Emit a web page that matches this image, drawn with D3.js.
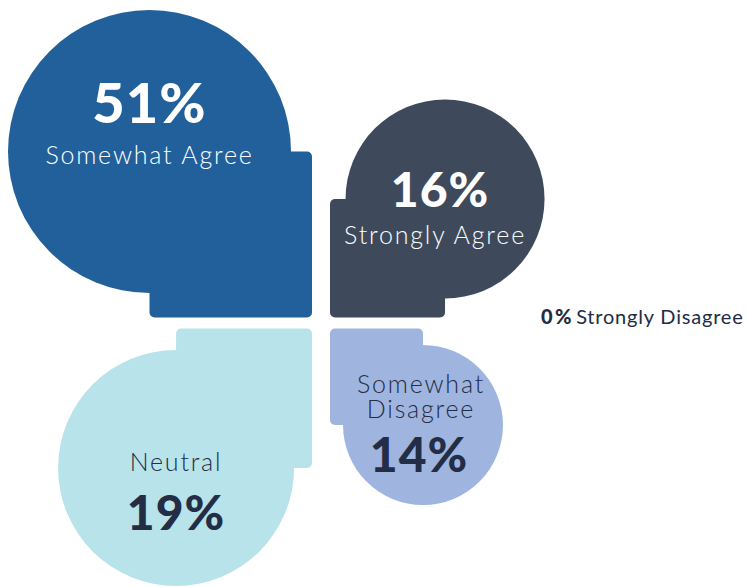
<!DOCTYPE html>
<html>
<head>
<meta charset="utf-8">
<script src="https://cdn.jsdelivr.net/npm/d3@7"></script>
<style>
  html, body { margin: 0; padding: 0; background: #ffffff; }
  svg { display: block; font-family: Lato, "Noto Sans", sans-serif; }
</style>
</head>
<body>
<svg id="chart" width="747" height="587"></svg>
<script>
// Survey responses, share of respondents (%)
const categories = ["Strongly Agree", "Somewhat Agree", "Neutral", "Somewhat Disagree", "Strongly Disagree"];
const values = [16, 51, 19, 14, 0];
const colors = ["#3e4a5c", "#22609c", "#b8e3ea", "#9fb5df", "#222c44"];

const W = 747, H = 587;
const svg = d3.select("#chart");

// Quadrant of each answer around the middle of the flower (sx, sy)
const quadrant = {
  "Somewhat Agree": [-1, -1],
  "Strongly Agree": [1, -1],
  "Neutral": [-1, 1],
  "Somewhat Disagree": [1, 1]
};

const rows = categories.map((c, i) => ({ cat: c, value: values[i], color: colors[i] }));
const petals = rows.filter(d => d.value > 0);
const empty = rows.filter(d => d.value === 0);

// Petal size follows the answer's rank (largest share first)
const ranked = petals.slice().sort((a, b) => b.value - a.value);
ranked.forEach((d, i) => d.rank = i);
const radius = d3.scaleLinear().domain([0, 1, 2, 3]).range([141.5, 118, 99.5, 80]);

// Centre of the flower and the half-gaps between the petals
const cx = 321, cy = 323, gapX = 9, gapY = 5.5;

petals.forEach(d => {
  const [sx, sy] = quadrant[d.cat];
  d.sx = sx; d.sy = sy;
  d.r = radius(d.rank);
  const off = d.r * 1.13 + 11.6;
  d.x = cx + sx * off;
  d.y = cy + sy * off;
  // square leg running from the circle centre to the middle
  const ix = cx + sx * gapX, iy = cy + sy * gapY;
  d.rect = {
    x: Math.min(d.x, ix), y: Math.min(d.y, iy),
    w: Math.abs(ix - d.x), h: Math.abs(iy - d.y)
  };
});

const g = svg.append("g");
const petal = g.selectAll("g.petal").data(petals).join("g").attr("class", "petal");

petal.append("rect")
  .attr("x", d => d.rect.x).attr("y", d => d.rect.y)
  .attr("width", d => d.rect.w).attr("height", d => d.rect.h)
  .attr("rx", 5).attr("ry", 5)
  .attr("fill", d => d.color);

petal.append("circle")
  .attr("cx", d => d.x).attr("cy", d => d.y).attr("r", d => d.r)
  .attr("fill", d => d.color);

// Text placement per quadrant: offsets of the percentage and the caption lines
const textLayout = {
  "-1,-1": { pdx: 0, cdx: 0, pct: -29, cap: 12 },
  "1,-1": { pdx: -5, cdx: -10, pct: 8, cap: 45 },
  "-1,1": { pdx: 0, cdx: 0, pct: 62, cap: 3 },
  "1,1": { pdx: -4, cdx: -2, pct: 47, cap: -32 }
};

const fmt = v => v + "%";
const lineH = 25;

petal.each(function(d) {
  const sel = d3.select(this);
  const lay = textLayout[d.sx + "," + d.sy];
  const light = d3.hsl(d.color).l > 0.6;
  const fill = light ? "#232d45" : "#ffffff";
  const pctSize = d.rank === 0 ? 56 : 48;

  sel.append("text")
    .attr("x", d.x + lay.pdx).attr("y", d.y + lay.pct)
    .attr("text-anchor", "middle")
    .attr("font-size", pctSize).attr("font-weight", 900)
    .attr("letter-spacing", 1)
    .attr("fill", fill)
    .text(fmt(d.value));

  // caption, broken into words when it would not fit the circle
  const cap = sel.append("text")
    .attr("x", d.x + lay.cdx).attr("y", d.y + lay.cap)
    .attr("text-anchor", "middle")
    .attr("font-size", 25).attr("font-weight", 300)
    .attr("letter-spacing", 1.8)
    .attr("fill", fill)
    .text(d.cat);
  if (cap.node().getComputedTextLength() > d.r * 1.9) {
    const words = d.cat.split(" ");
    cap.text(null);
    words.forEach((w, i) => {
      cap.append("tspan")
        .attr("x", d.x + lay.cdx)
        .attr("dy", i === 0 ? 0 : lineH)
        .text(w);
    });
  }
});

// Answers nobody chose are listed beside the flower
const note = svg.selectAll("text.empty").data(empty).join("text")
  .attr("class", "empty")
  .attr("x", 541).attr("y", (d, i) => 324 + i * 26)
  .attr("font-size", 20)
  .attr("fill", d => d.color);
note.append("tspan").attr("font-weight", 900).attr("letter-spacing", 2.5).text(d => fmt(d.value));
note.append("tspan").attr("font-weight", 400).attr("letter-spacing", 0.8).attr("dx", 2).text(d => d.cat);
</script>
</body>
</html>
